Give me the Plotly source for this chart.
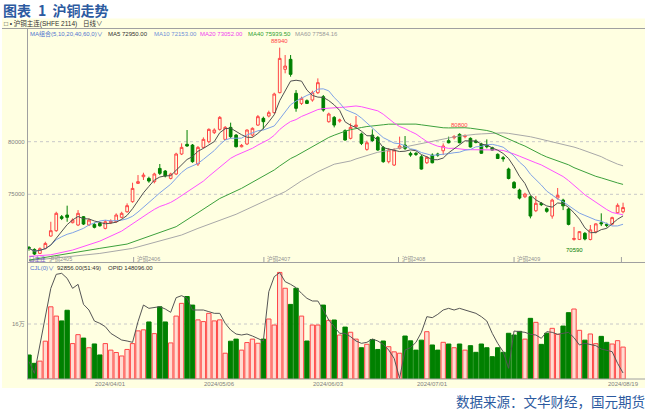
import plotly.graph_objects as go
import pandas as pd

W, H = 649, 412

# ---------------- data ----------------
holidays = ['2024-04-04', '2024-04-05', '2024-05-01', '2024-05-02', '2024-05-03', '2024-06-10']
dates = [d for d in pd.bdate_range('2024-03-11', '2024-08-19') if d.strftime('%Y-%m-%d') not in holidays]

open_ = [69950, 69760, 69380, 69860, 71030, 71540, 72870, 73030, 72300, 72080,
         72870, 72080, 72140, 72240, 71760, 72300, 72390, 72810, 73340, 74300,
         76040, 76670, 76510, 76200, 77460, 77210, 76510, 76930, 78830, 79750,
         79680, 77880, 79460, 80000, 80860, 81170, 80220, 81360, 80630, 79520,
         79780, 80630, 81580, 82220, 82440, 82760, 84660, 86880, 87830, 84600,
         83640, 83900, 83960, 84660, 84280, 81900, 82310, 81960, 81050, 80320,
         81430, 80730, 79270, 80630, 80410, 79460, 78100, 77780, 79370, 79680,
         78890, 78890, 78570, 78000, 78730, 78830, 79140, 80100, 80380, 80700,
         80480, 80320, 80060, 79780, 79680, 79430, 78800, 78480, 77400, 76130,
         75400, 74770, 74770, 73440, 74140, 73630, 72930, 74650, 74450, 73600,
         70710, 70710, 71290, 70700, 71440, 72300, 72140, 72170, 73250, 73340]
high = [70080, 69860, 69950, 70490, 72390, 73340, 73030, 73920, 72710, 73500,
        72930, 72710, 72300, 72390, 72550, 72620, 73190, 73340, 74140, 76100,
        76830, 77050, 76670, 77050, 77880, 77310, 77050, 78950, 79840, 81110,
        79780, 79590, 80410, 81270, 81270, 82440, 81490, 81810, 80730, 79780,
        81170, 81360, 82540, 82380, 82950, 84660, 88940, 88240, 88240, 84910,
        84280, 84020, 84850, 86020, 84440, 82760, 82440, 82190, 81170, 81740,
        82440, 80860, 80100, 81170, 80540, 79590, 79370, 79370, 80480, 80540,
        79050, 79020, 78730, 78640, 78890, 78950, 79840, 80480, 80630, 80800,
        80700, 80410, 80220, 79900, 80220, 79520, 78890, 78640, 77530, 76260,
        75530, 75150, 74900, 74830, 74260, 73760, 74580, 75600, 74580, 73730,
        71900, 71500, 71410, 72080, 72240, 73190, 72300, 72870, 74140, 74200]
low = [69640, 69230, 69320, 69760, 70970, 71440, 72550, 72390, 72240, 71980,
       72080, 71980, 71760, 71920, 71670, 72170, 72300, 72710, 73250, 74200,
       75980, 76360, 76100, 76040, 76830, 76610, 76420, 76830, 78730, 79520,
       78000, 77690, 79370, 79840, 80730, 81050, 80160, 80320, 79460, 79460,
       79680, 80480, 81490, 81170, 82310, 82690, 84600, 86500, 86180, 82850,
       83490, 83580, 83800, 84530, 82850, 81810, 81360, 81810, 80100, 80220,
       81360, 79680, 79140, 80000, 79140, 78000, 77940, 77690, 79270, 79210,
       78570, 78640, 77350, 77880, 77940, 78570, 78730, 79840, 80220, 79850,
       80320, 79450, 79840, 78850, 79370, 79150, 78380, 78100, 76420, 75560,
       74520, 74640, 72710, 73310, 73880, 73250, 72680, 74500, 73500, 72050,
       70590, 70650, 70620, 70620, 71290, 71980, 71860, 72050, 73120, 73190]
close = [69860, 69320, 69830, 70330, 71540, 73190, 72710, 72810, 72550, 73190,
         72170, 72550, 71860, 72010, 72390, 72460, 73030, 73190, 73920, 75560,
         76200, 76830, 76260, 76930, 76990, 76740, 76930, 78830, 79460, 79590,
         78100, 79460, 80220, 81170, 81110, 82310, 81360, 80480, 79520, 79650,
         81110, 81270, 82380, 81900, 82760, 84530, 87920, 87190, 86400, 83170,
         84120, 83640, 84660, 85610, 83010, 82630, 81580, 82060, 80160, 81360,
         81580, 79840, 79900, 80100, 79210, 78100, 79210, 79210, 79590, 79370,
         78730, 78800, 77400, 78510, 78000, 78730, 79590, 79900, 80480, 79900,
         80570, 79500, 79940, 78900, 79520, 79200, 78400, 78380, 76500, 75600,
         74640, 75020, 72930, 74140, 74010, 73380, 74450, 74900, 73900, 72140,
         70800, 71450, 70750, 71620, 72190, 72200, 72050, 72780, 73950, 73740]
volume = [69800, 45600, 52000, 110000, 210000, 183000, 169000, 200000, 103000, 129000,
          119000, 91000, 102000, 70000, 103000, 84000, 77000, 67000, 86000, 103000,
          140000, 143000, 166000, 132000, 210000, 166000, 105000, 183000, 220000, 240000,
          215000, 172000, 167000, 191000, 169000, 172000, 75000, 110000, 116000, 84000,
          106000, 116000, 104000, 116000, 174500, 157000, 310000, 264000, 217000, 264000,
          183000, 110500, 157000, 157000, 215000, 170700, 171600, 128000, 151000, 136000,
          116000, 91000, 101000, 115000, 86000, 110500, 94000, 79000, 75000, 125000,
          111000, 84000, 113000, 137600, 99000, 84000, 106700, 101800, 91000, 101800,
          84000, 97000, 77600, 101800, 91000, 65000, 91000, 77600, 133000, 128000,
          138600, 116000, 176500, 164800, 100800, 133000, 147400, 130000, 154000, 193000,
          203600, 141600, 113000, 131000, 102800, 124000, 106700, 101800, 111500, 92856]
open_interest = [161700, 147700, 181700, 217700, 249700, 266500, 267700, 261700, 249700, 254500,
                 230500, 223700, 210500, 207700, 203700, 195700, 191700, 187700, 186500, 184900,
                 209700, 229700, 225700, 226500, 227700, 224900, 220900, 238500, 240900, 237700,
                 223700, 223700, 223700, 221700, 219700, 219700, 207700, 199700, 194900, 193700,
                 194900, 192500, 189700, 186500, 245700, 263700, 268500, 257700, 254500, 250500,
                 243700, 237700, 234500, 234500, 223700, 211700, 203700, 195700, 195700, 191700,
                 186500, 183700, 184900, 188900, 186500, 182500, 175700, 165700, 141700, 175700,
                 178500, 184900, 196900, 215700, 214500, 218500, 223700, 225700, 223700, 225700,
                 223700, 221700, 219700, 215700, 210500, 195700, 183700, 173700, 153700, 198500,
                 197700, 196900, 194500, 193700, 189700, 197700, 196900, 194500, 195700, 196900,
                 190500, 181700, 183700, 182500, 180900, 176900, 175700, 173700, 159700, 148096]

ma20_read_idx = [0, 4, 8, 13, 17]
ma20_read = [69100, 69250, 69700, 70550, 71500]
ma40_read_idx = [0, 7, 13, 18, 22, 27, 31, 35]
ma40_read = [68750, 69380, 69860, 70270, 70970, 71920, 73250, 74600]
ma60_read_idx = [0, 7, 13, 19, 22, 25, 28, 31, 35, 38, 44, 47, 50, 53, 56]
ma60_read = [68690, 69070, 69380, 69860, 70270, 70720, 71130, 71760, 72550, 73100,
             74540, 75250, 76280, 77150, 77860]

tick_idx = [15, 35, 55, 74, 109]
contracts = ['沪铜2405', '沪铜2406', '沪铜2407', '沪铜2408', '沪铜2409']
contract_start = [3.3, 19.4, 43.3, 68.0, 89.2]

ma_header = [('MA组合(5,10,20,40,60,0)∨', '#4F74D0'), ('MA5 72950.00', '#303030'),
             ('MA10 72153.00', '#6F8FD8'), ('MA20 73052.00', '#F040F0'),
             ('MA40 75939.50', '#30A030'), ('MA60 77584.16', '#9A9A9A')]

# ---------------- derived ----------------
idx = list(range(len(close)))
cs = pd.Series(close, dtype=float)
ma5 = cs.rolling(5, min_periods=1).mean()
ma10 = cs.rolling(10, min_periods=1).mean()
ma20c = cs.rolling(20).mean()
ma40c = cs.rolling(40).mean()
ma60c = cs.rolling(60).mean()


def joined(read_idx, read_vals, comp, start):
    xs = list(read_idx) + list(range(start, len(close)))
    ys = list(read_vals) + list(comp.iloc[start:])
    return xs, ys


ma20x, ma20y = joined(ma20_read_idx, ma20_read, ma20c, 19)
ma40x, ma40y = joined(ma40_read_idx, ma40_read, ma40c, 39)
ma60x, ma60y = joined(ma60_read_idx, ma60_read, ma60c, 59)

# ---------------- style ----------------
BG = '#FFFFE1'
RED = '#FF4646'
GREEN = '#008000'
PINK = '#FFDCD2'
FONT = 'Liberation Sans, Noto Sans CJK SC, sans-serif'
CJK = 'Noto Sans CJK SC, sans-serif'


def px(x):
    return x / W


def py(y):
    return 1 - y / H


X0, X1 = 27, 645
XR = [(X0 - 29) / 5.45, (X1 - 29) / 5.45]
Y_TOP, Y_SEP, Y_BOT = 29, 262.5, 379
PRICE_R = [80000 - (Y_SEP - 141.7) * 95.06, 80000 + (141.7 - Y_TOP) * 95.06]
VOL_R = [0, (Y_BOT - Y_SEP) * 2909]
OI_R = [140900, 140900 + (Y_BOT - Y_SEP) * 1200]

fig = go.Figure()
fig.add_trace(go.Candlestick(
    x=idx, open=open_, high=high, low=low, close=close, whiskerwidth=0,
    increasing=dict(line=dict(color=RED, width=1), fillcolor=BG),
    decreasing=dict(line=dict(color=GREEN, width=1), fillcolor=GREEN),
    xaxis='x', yaxis='y', hoverinfo='skip', showlegend=False))

for xs, ys, col in [(ma60x, ma60y, '#A8A8A8'), (ma40x, ma40y, '#3CA03C'),
                    (ma20x, ma20y, '#FF50FF'), (idx, list(ma10), '#7FA2E6'),
                    (idx, list(ma5), '#505050')]:
    fig.add_trace(go.Scatter(x=xs, y=ys, mode='lines', line=dict(color=col, width=1),
                             xaxis='x', yaxis='y', hoverinfo='skip', showlegend=False))

up = [c >= o for o, c in zip(open_, close)]
fig.add_trace(go.Bar(
    x=idx, y=volume, width=0.8,
    marker=dict(color=[PINK if u else GREEN for u in up],
                line=dict(color=[RED if u else GREEN for u in up], width=1)),
    xaxis='x2', yaxis='y2', hoverinfo='skip', showlegend=False))
fig.add_trace(go.Scatter(x=idx, y=open_interest, mode='lines',
                         line=dict(color='#555555', width=1),
                         xaxis='x2', yaxis='y3', hoverinfo='skip', showlegend=False))

shapes = [
    dict(type='rect', xref='paper', yref='paper', x0=px(2), x1=px(645), y0=py(388), y1=py(18.5),
         fillcolor=BG, line=dict(width=0), layer='below'),
    dict(type='line', xref='paper', yref='paper', x0=px(2), x1=px(645), y0=py(28.5), y1=py(28.5),
         line=dict(color='#A0A0A0', width=1)),
    dict(type='line', xref='paper', yref='paper', x0=px(27.5), x1=px(27.5), y0=py(Y_BOT), y1=py(28.5),
         line=dict(color='#A0A0A0', width=1)),
    dict(type='line', xref='paper', yref='paper', x0=px(27), x1=px(645), y0=py(Y_SEP), y1=py(Y_SEP),
         line=dict(color='#A0A0A0', width=1)),
    dict(type='line', xref='paper', yref='paper', x0=px(27), x1=px(645), y0=py(Y_BOT), y1=py(Y_BOT),
         line=dict(color='#A0A0A0', width=1)),
]
for v in [80000, 75000]:
    shapes.append(dict(type='line', xref='paper', yref='y', x0=px(28), x1=px(645), y0=v, y1=v,
                       line=dict(color='#C8C8C8', width=1, dash='dot'), layer='below'))
shapes.append(dict(type='line', xref='paper', yref='y2', x0=px(28), x1=px(645), y0=160000, y1=160000,
                   line=dict(color='#C8C8C8', width=1, dash='dot'), layer='below'))
for s in contract_start[1:] + [108.9]:
    shapes.append(dict(type='line', xref='x', yref='paper', x0=s - 0.2, x1=s - 0.2,
                       y0=py(262), y1=py(257), line=dict(color='#A0A0A0', width=1)))

ann = []


def text(x, y, t, size=6, color='#303030', xanchor='left', family=FONT, **kw):
    ann.append(dict(x=px(x), y=py(y), xref='paper', yref='paper', text=t, showarrow=False,
                    xanchor=xanchor, yanchor='middle', font=dict(size=size, color=color, family=family),
                    borderpad=0, **kw))


text(2, 9.5, '<b>图表\u2002' + '1\u00a0 沪铜走势</b>', size=14, color='#2C5AA0', family=CJK)
text(646, 401, '数据来源：文华财经，国元期货', size=13.5, color='#2C5AA0', family=CJK, xanchor='right')
text(3, 23.5, '□ • 沪铜主连(SHFE 2114)', size=6.5, color='#303030')
text(82, 23.5, '日线∨', size=6.5, color='#303030')

hx = [29, 107, 153, 199, 247, 294]
for (t, c), x in zip(ma_header, hx):
    text(x, 33.5, t, size=6, color=c)

text(29, 267.5, 'CJL(0)∨', size=6, color='#4F74D0')
text(56, 267.5, '92856.00(51:49)', size=6, color='#303030')
text(107, 267.5, 'OPID 148096.00', size=6, color='#303030')

text(25.5, 142, '80000', size=6, color='#808080', xanchor='right')
text(25.5, 194.3, '75000', size=6, color='#808080', xanchor='right')
text(25.5, 324, '16万', size=6, color='#808080', xanchor='right')

text(28, 258.5, '口主连', size=5.5, color='#7050C8')
for name, s in zip(contracts, contract_start):
    ann.append(dict(x=s, y=py(259), xref='x', yref='paper', text=name, showarrow=False,
                    xanchor='left', yanchor='middle', font=dict(size=5.5, color='#909090', family=FONT)))

for i in tick_idx:
    ann.append(dict(x=i, y=py(383.5), xref='x2', yref='paper', text=dates[i].strftime('%Y/%m/%d'),
                    showarrow=False, xanchor='center', yanchor='middle',
                    font=dict(size=6, color='#808080', family=FONT)))

for i, val, col, sh in [(46, high[46], RED, 2), (79, high[79], RED, 3), (100, low[100], GREEN, -4)]:
    ann.append(dict(x=i, y=val, xref='x', yref='y', text=str(val), showarrow=False,
                    xanchor='center', yanchor='bottom' if sh > 0 else 'top', yshift=sh,
                    font=dict(size=6, color=col, family=FONT)))

fig.update_layout(
    width=W, height=H, margin=dict(l=0, r=0, t=0, b=0),
    paper_bgcolor='white', plot_bgcolor='rgba(0,0,0,0)',
    showlegend=False, barmode='overlay',
    xaxis=dict(domain=[px(X0), px(X1)], range=XR, visible=False, anchor='y',
               rangeslider=dict(visible=False), fixedrange=True),
    yaxis=dict(domain=[py(Y_SEP), py(Y_TOP)], range=PRICE_R, visible=False, fixedrange=True),
    xaxis2=dict(domain=[px(X0), px(X1)], range=XR, visible=False, anchor='y2', fixedrange=True),
    yaxis2=dict(domain=[py(Y_BOT), py(Y_SEP)], range=VOL_R, visible=False, fixedrange=True),
    yaxis3=dict(domain=[py(Y_BOT), py(Y_SEP)], range=OI_R, visible=False, overlaying='y2',
                anchor='x2', fixedrange=True),
    shapes=shapes, annotations=ann,
)

fig.write_html('out.html', config={'displayModeBar': False},
               post_script="document.body.style.margin='0px';")
